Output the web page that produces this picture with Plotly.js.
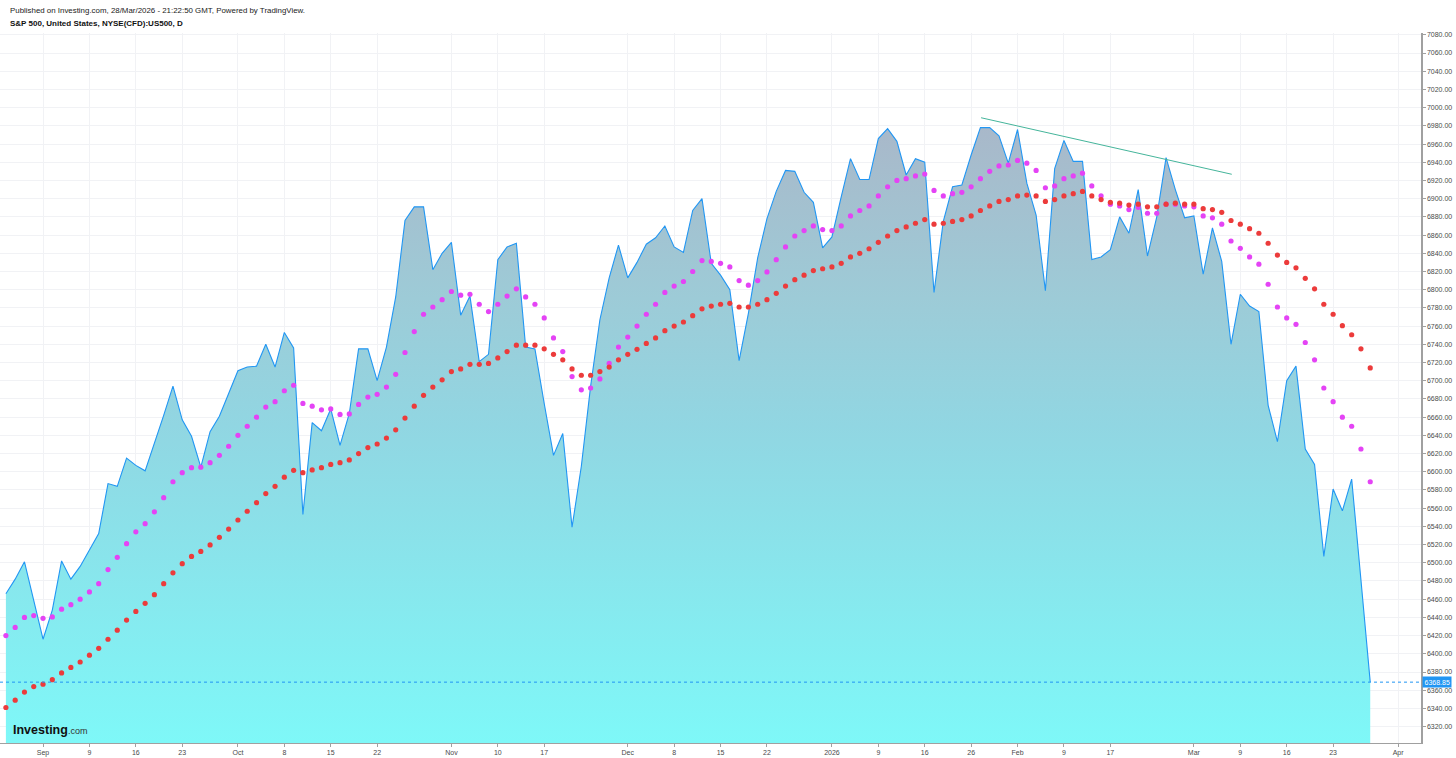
<!DOCTYPE html>
<html>
<head>
<meta charset="utf-8">
<script src="https://cdn.plot.ly/plotly-3.0.1.min.js"></script>
<style>
  html, body { margin: 0; padding: 0; background: #ffffff; }
  #chart { width: 1456px; height: 758px; }
</style>
</head>
<body>
<div id="chart"></div>
<script>
// Daily closes of S&P 500 CFD (US500), 26 Aug 2025 .. 27 Mar 2026 (trading days)
const closes = [
  6466, 6482, 6501, 6459, 6416, 6448, 6502, 6482, 6496, 6514,
  6532, 6587, 6584, 6615, 6607, 6601, 6631, 6662, 6694, 6657,
  6639, 6605, 6644, 6661, 6686, 6711, 6715, 6716, 6740, 6715,
  6753, 6736, 6553, 6654, 6645, 6669, 6629, 6664, 6735, 6735,
  6700, 6737, 6792, 6876, 6891, 6891, 6822, 6840, 6852, 6772,
  6793, 6721, 6729, 6833, 6847, 6851, 6737, 6735, 6675, 6618,
  6642, 6539, 6606, 6694, 6767, 6813, 6849, 6813, 6830, 6850,
  6857, 6870, 6847, 6841, 6887, 6900, 6829, 6816, 6800, 6722,
  6774, 6835, 6878, 6908, 6931, 6930, 6907, 6896, 6846, 6858,
  6902, 6944, 6921, 6921, 6966, 6977, 6963, 6926, 6944, 6940,
  6797, 6875, 6913, 6915, 6948, 6978, 6978, 6969, 6939, 6976,
  6917, 6882, 6799, 6933, 6964, 6941, 6941, 6833, 6836, 6844,
  6880, 6862, 6910, 6837, 6880, 6945, 6910, 6879, 6881, 6817,
  6868, 6831, 6740, 6795, 6782, 6776, 6673, 6633, 6700, 6716,
  6625, 6608, 6507, 6581, 6557, 6592, 6481, 6368.85
];
// Faster moving average (magenta dots)
const maFast = [
  6420, 6429, 6440, 6442, 6439, 6440.5, 6449, 6454, 6460, 6468,
  6477, 6492.5, 6506, 6521, 6534, 6543, 6556, 6571.5, 6589, 6599,
  6604.5, 6605, 6610, 6618, 6628, 6640, 6650, 6660, 6671, 6677,
  6689, 6695, 6675, 6672, 6668, 6669, 6663, 6663.5, 6674, 6682,
  6685, 6693, 6707, 6731, 6754, 6773, 6781, 6789, 6798, 6794,
  6795, 6784, 6776, 6784, 6793, 6801, 6792, 6784, 6769, 6747,
  6732, 6704.5, 6690, 6692, 6702, 6719, 6737, 6748, 6760, 6773,
  6784, 6797, 6804, 6809, 6820, 6832, 6831, 6829, 6825, 6810,
  6805, 6810, 6819.5, 6833, 6847, 6859, 6865, 6870, 6866, 6865,
  6870, 6881, 6887, 6892, 6903, 6913, 6920, 6922, 6925, 6927,
  6909, 6903, 6905.5, 6907, 6913, 6922, 6930, 6936, 6937, 6942,
  6939, 6931, 6912, 6914, 6922, 6925, 6928, 6914, 6903, 6894,
  6892, 6888, 6890.5, 6884, 6884, 6894, 6894, 6892, 6891, 6881,
  6879, 6872, 6853.5, 6845.5, 6836, 6828, 6806, 6781, 6769, 6762,
  6742, 6723, 6692, 6677, 6660, 6650, 6625, 6589
];
// Slower moving average (red dots)
const maSlow = [
  6341, 6349, 6358, 6364, 6366.6, 6371.6, 6379, 6385, 6391, 6398.5,
  6406, 6416, 6426, 6437, 6446.5, 6455.5, 6465, 6477, 6489, 6499,
  6507, 6512.5, 6519.6, 6528, 6537, 6547, 6556.6, 6566, 6576, 6584,
  6594, 6601.6, 6599, 6602, 6604.5, 6608, 6610, 6613, 6620, 6626.5,
  6630.5, 6637, 6646, 6659, 6672, 6684, 6693, 6701, 6710, 6713,
  6718, 6718, 6719, 6725, 6732, 6739, 6739, 6739, 6735, 6729,
  6723, 6713, 6706, 6706, 6710, 6715, 6723, 6729, 6734.5, 6741,
  6747, 6755, 6760, 6764.5, 6771.5, 6779, 6782, 6784, 6785, 6781,
  6781, 6784, 6789, 6796, 6804, 6811, 6816, 6821, 6823, 6825,
  6829, 6836, 6840, 6845, 6852, 6859, 6865, 6869, 6873, 6877,
  6872, 6873, 6875, 6877, 6881, 6887, 6892, 6897, 6899, 6903,
  6904, 6903, 6897, 6899, 6903, 6905.5, 6908, 6903, 6899, 6896,
  6895, 6893, 6894, 6891, 6891, 6894, 6895, 6894, 6894, 6889,
  6888, 6885, 6876, 6872, 6867, 6862, 6851, 6838, 6830, 6824,
  6812.5, 6801, 6784, 6773, 6760.5, 6750.5, 6735, 6714
];
// Bar index of each x-axis tick and its label
const tickIdx  = [4, 9, 14, 19, 25, 30, 35, 40, 48, 53, 58, 67, 72, 77, 82, 89, 94, 99, 104, 109, 114, 119, 128, 133, 138, 143, 150];
const tickText = ["Sep", "9", "16", "23", "Oct", "8", "15", "22", "Nov", "10", "17", "Dec", "8", "15", "22", "2026", "9", "16", "26", "Feb", "9", "17", "Mar", "9", "16", "23", "Apr"];
// Hand-drawn trend line (bar index, price)
const trendIdx   = [105.07, 132.08];
const trendPrice = [6988.9, 6926.8];

const idx = closes.map((_, i) => i);
const last = closes[closes.length - 1];
const FONT = '"Liberation Sans", Arial, sans-serif';

const traces = [
  {
    x: idx, y: closes, type: 'scatter', mode: 'lines',
    line: { color: '#2196f3', width: 1.1 },
    fill: 'tozeroy',
    fillgradient: {
      type: 'vertical', start: 6302, stop: 7000,
      colorscale: [
        [0, 'rgb(126,248,248)'],
        [0.5, 'rgb(145,214,226)'],
        [0.7, 'rgb(157,203,215)'],
        [1, 'rgb(170,182,200)']
      ]
    },
    hoverinfo: 'skip'
  },
  {
    x: idx, y: maFast, type: 'scatter', mode: 'markers',
    marker: { color: '#e443f5', size: 5.2 },
    hoverinfo: 'skip'
  },
  {
    x: idx, y: maSlow, type: 'scatter', mode: 'markers',
    marker: { color: '#ec3b3b', size: 5.2 },
    hoverinfo: 'skip'
  },
  {
    x: trendIdx, y: trendPrice, type: 'scatter', mode: 'lines',
    line: { color: '#45b59b', width: 1 },
    hoverinfo: 'skip'
  }
];

const layout = {
  width: 1456, height: 758,
  margin: { l: 0, r: 35, t: 33, b: 15 },
  paper_bgcolor: '#ffffff', plot_bgcolor: '#ffffff',
  showlegend: false,
  font: { family: FONT, size: 7, color: '#4a4a4a' },
  xaxis: {
    type: 'linear', range: [-0.636, 152.47],
    tickmode: 'array', tickvals: tickIdx, ticktext: tickText,
    showgrid: true, gridcolor: '#f1f2f5', gridwidth: 1,
    zeroline: false,
    showline: true, linecolor: '#a0a0a0', linewidth: 1,
    ticks: 'outside', ticklen: 3, tickcolor: '#a0a0a0',
    tickfont: { family: FONT, size: 7, color: '#4a4a4a' },
    fixedrange: true
  },
  yaxis: {
    side: 'right', range: [6302, 7082],
    dtick: 20, tick0: 6300, tickformat: '.2f',
    showgrid: true, gridcolor: '#f1f2f5', gridwidth: 1,
    zeroline: false,
    showline: true, linecolor: '#a0a0a0', linewidth: 1.5,
    ticks: 'outside', ticklen: 3, tickcolor: '#a0a0a0',
    tickfont: { family: FONT, size: 7, color: '#4a4a4a' },
    fixedrange: true
  },
  shapes: [
    {
      type: 'line', xref: 'paper', x0: 0, x1: 1, yref: 'y', y0: last, y1: last,
      line: { color: '#2196f3', width: 1, dash: 'dot' }
    }
  ],
  annotations: [
    {
      xref: 'paper', yref: 'paper', x: 0, y: 1, xanchor: 'left', yanchor: 'middle',
      xshift: 8, yshift: 23, showarrow: false,
      text: 'Published on Investing.com, 28/Mar/2026 - 21:22:50 GMT, Powered by TradingView.',
      font: { family: FONT, size: 7.9, color: '#222222' }
    },
    {
      xref: 'paper', yref: 'paper', x: 0, y: 1, xanchor: 'left', yanchor: 'middle',
      xshift: 8, yshift: 10, showarrow: false,
      text: '<b>S&amp;P 500, United States, NYSE(CFD):US500, D</b>',
      font: { family: FONT, size: 8, color: '#111111' }
    },
    {
      xref: 'paper', yref: 'paper', x: 0, y: 0, xanchor: 'left', yanchor: 'middle',
      xshift: 11, yshift: 13, showarrow: false,
      text: '<b>Investing</b><span style="font-size:9px;color:#333">.com</span>',
      font: { family: FONT, size: 12.5, color: '#111111' }
    },
    {
      xref: 'paper', yref: 'y', x: 1, y: last, xanchor: 'left', yanchor: 'middle',
      xshift: 1, showarrow: false,
      text: last.toFixed(2),
      bgcolor: '#2196f3', borderpad: 1.5,
      font: { family: FONT, size: 7, color: '#ffffff' }
    }
  ]
};

Plotly.newPlot('chart', traces, layout, { displayModeBar: false, staticPlot: true });
</script>
</body>
</html>
